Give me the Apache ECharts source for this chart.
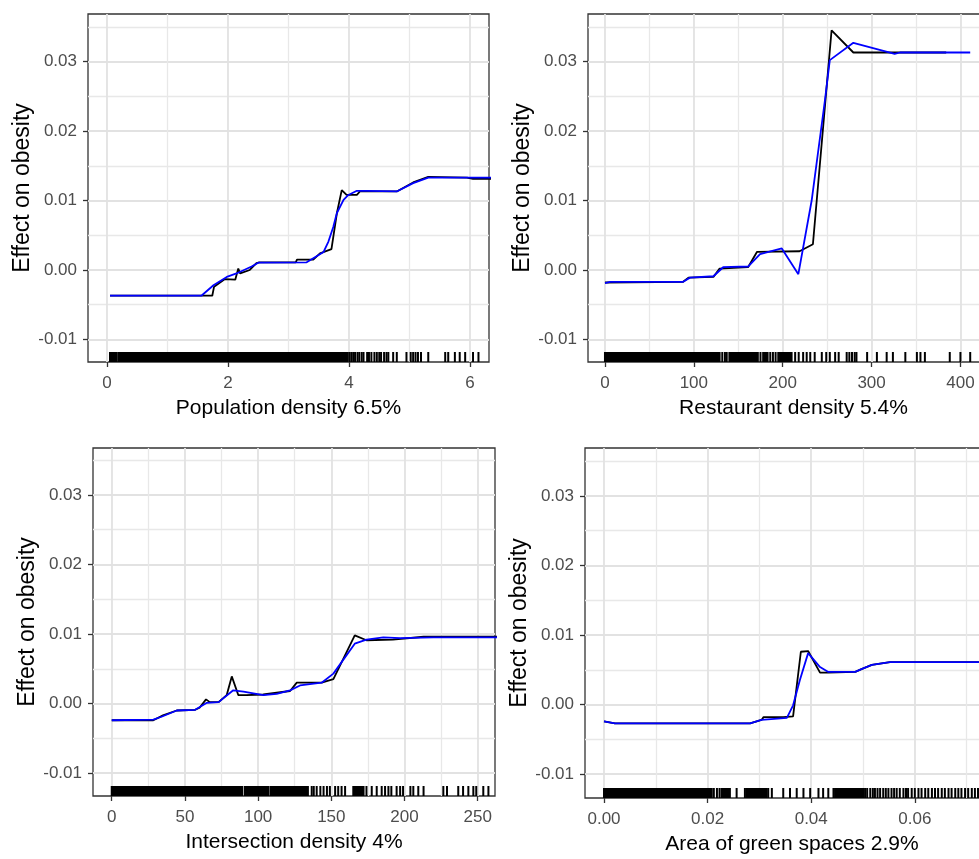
<!DOCTYPE html>
<html><head><meta charset="utf-8">
<script src="https://cdn.jsdelivr.net/npm/echarts@6/dist/echarts.min.js"></script>
<style>html,body{margin:0;padding:0;background:#fff}#c{width:979px;height:859px}</style>
</head><body><div id="c"></div>
<script>
// ---------- data ----------
const yTicks = [-0.01, 0, 0.01, 0.02, 0.03];
const yMinor = [-0.005, 0.005, 0.015, 0.025, 0.035];

const popTicks = [0, 2, 4, 6];
const popMinor = [1, 3, 5];
const popBlack = [[0.05,-0.0037],[1.74,-0.0037],[1.77,-0.0024],[1.95,-0.0013],[2.12,-0.0014],[2.17,0.0002],[2.2,-0.0005],[2.36,0.0],[2.47,0.001],[2.52,0.0011],[3.12,0.0011],[3.14,0.0015],[3.41,0.0015],[3.52,0.0024],[3.71,0.003],[3.74,0.0029],[3.8,0.0082],[3.88,0.0115],[3.96,0.0108],[4.13,0.0108],[4.18,0.0113],[4.79,0.0113],[5.06,0.0126],[5.31,0.0134],[5.95,0.0133],[6.05,0.0131],[6.35,0.0131]];
const popBlue = [[0.05,-0.0037],[1.56,-0.0037],[1.76,-0.0022],[1.98,-0.001],[2.14,-0.0005],[2.39,0.0005],[2.5,0.00105],[3.3,0.0011],[3.41,0.0017],[3.58,0.0026],[3.66,0.0041],[3.74,0.0062],[3.8,0.0082],[3.91,0.0101],[3.99,0.0108],[4.13,0.0114],[4.29,0.0114],[4.79,0.0113],[5.06,0.0125],[5.31,0.0133],[6.35,0.0133]];
const popRug = [[0.05,0.16],[0.19,3.98],4.01,4.04,4.07,4.10,4.14,4.17,4.21,4.24,4.3,4.33,4.37,4.42,4.46,4.5,4.53,4.58,4.62,4.65,4.73,4.79,4.95,5.02,5.06,5.1,5.14,5.19,5.31,5.59,5.64,5.75,5.83,5.92,6.05,6.14];

const restTicks = [0, 100, 200, 300, 400];
const restMinor = [50, 150, 250, 350];
const restBlack = [[0,-0.0018],[88,-0.0017],[94,-0.0011],[122,-0.001],[129,0.0002],[161,0.0004],[171,0.0026],[219,0.0027],[234,0.0037],[255,0.0345],[279.5,0.0313],[384,0.0313]];
const restBlue = [[0,-0.0019],[6,-0.0017],[88,-0.0017],[95.7,-0.0011],[122,-0.0009],[133,0.0004],[161,0.0005],[174.5,0.0023],[199,0.0031],[217.6,-0.0006],[232.6,0.01],[247.6,0.0245],[253,0.0302],[279.5,0.0327],[326,0.0311],[332,0.0313],[411,0.0313]];
const restRug = [[0,129],132,135,137,140,[141,170],172,175,[178,183],186,189,192,[195,210],214,218,223,227,231,236,244,249,253,259,263,272,275,278,281,283,295,306,317,324,338,351,355,360,388,400,411];

const interTicks = [0, 50, 100, 150, 200, 250];
const interMinor = [25, 75, 125, 175, 225];
const interBlack = [[0,-0.0024],[28.4,-0.0024],[35,-0.0017],[44.4,-0.001],[57,-0.0009],[60,-0.0006],[64.4,0.0006],[67,0.0002],[73,0.0002],[78.5,0.0012],[82,0.0039],[86.5,0.0012],[92,0.0012],[103.5,0.0013],[121.8,0.0018],[126.4,0.003],[143.4,0.003],[151.4,0.0035],[166,0.0098],[174,0.0091],[192,0.0092],[213,0.0096],[265,0.0096]];
const interBlue = [[0,-0.0024],[28.4,-0.0023],[34,-0.0019],[44.4,-0.001],[57,-0.0009],[65,0.0001],[73,0.0002],[83,0.0019],[90,0.0017],[103.5,0.0012],[112.7,0.0014],[121.8,0.0019],[128.6,0.0026],[143.4,0.003],[151.4,0.0043],[166,0.0086],[174,0.0092],[185.5,0.0095],[197,0.0094],[219.7,0.0095],[265,0.0095]];
const interRug = [[0,89],[90.8,107],[108.5,134],136.6,138,140,142.5,144.7,147,149,152.6,154.7,157,159.4,[165,172],174,177.6,181,184.4,186.7,189,191,194.6,197,199,204,206,209.4,213,226.5,229,236.7,240,243.6,247,249,253.8,257.3];

const greenTicks = [0, 0.02, 0.04, 0.06];
const greenMinor = [0.01, 0.03, 0.05, 0.07];
const greenBlack = [[0,-0.0024],[0.0021,-0.0027],[0.0282,-0.0027],[0.0304,-0.0022],[0.0308,-0.0018],[0.0346,-0.0018],[0.0365,-0.0017],[0.038,0.0076],[0.0394,0.0077],[0.0417,0.0046],[0.0433,0.0046],[0.0485,0.0047],[0.0497,0.0051],[0.0517,0.0057],[0.0552,0.0061],[0.0765,0.0061]];
const greenBlue = [[0,-0.0024],[0.0021,-0.0027],[0.0282,-0.0027],[0.0304,-0.0022],[0.0353,-0.0019],[0.0365,-0.0001],[0.0378,0.0035],[0.0394,0.0074],[0.0417,0.0054],[0.0433,0.0047],[0.0485,0.0047],[0.0497,0.0051],[0.0517,0.0057],[0.0552,0.0061],[0.0765,0.0061]];
const greenRug = [[0,0.0147],[0.0150,0.0208],0.0212,0.0218,0.0223,[0.0227,0.0243],0.0256,0.0272,[0.0275,0.0314],0.0317,0.0324,0.0346,0.0359,0.0372,0.0385,0.0398,0.0414,0.0423,0.0433,0.0443,[0.0446,0.0501],0.0504,0.0508,0.0514,0.0519,0.0523,0.0528,0.0533,0.0539,0.0544,0.0549,0.0555,0.0560,0.0565,0.0571,0.0578,0.0583,0.0587,0.0594,0.0600,0.0607,0.0613,0.0620,0.0626,0.0633,0.0639,0.0645,0.0652,0.0658,0.0665,0.0671,0.0678,0.0684,0.0690,0.0697,0.0703,0.0710,0.0716,0.0722];

const xTitles = ['Population density 6.5%', 'Restaurant density 5.4%', 'Intersection density 4%', 'Area of green spaces 2.9%'];
const yTitle = 'Effect on obesity';

// ---------- layout ----------
const FONT = 'Liberation Sans, Arial, sans-serif';
const panels = [
  {left:88, top:14, width:401, height:348, xMin:-0.314, xMax:6.314, yMin:-0.01324, yMax:0.03684,
   ticks:popTicks, minor:popMinor, black:popBlack, blue:popBlue, rug:popRug, fmt:v=>String(v)},
  {left:588, top:14, width:411, height:348, xMin:-19.1, xMax:443.4, yMin:-0.01324, yMax:0.03684,
   ticks:restTicks, minor:restMinor, black:restBlack, blue:restBlue, rug:restRug, fmt:v=>String(v)},
  {left:93, top:448, width:402, height:348, xMin:-12.8, xMax:261.8, yMin:-0.01329, yMax:0.03673,
   ticks:interTicks, minor:interMinor, black:interBlack, blue:interBlue, rug:interRug, fmt:v=>String(v)},
  {left:585, top:448, width:414, height:350, xMin:-0.00367, xMax:0.07625, yMin:-0.01342, yMax:0.03688,
   ticks:greenTicks, minor:greenMinor, black:greenBlack, blue:greenBlue, rug:greenRug, fmt:v=>v.toFixed(2)}
];

const RUG_H = 10;
function rugRender(params, api) {
  const cs = params.coordSys;
  const a = api.coord([api.value(0), 0])[0];
  const b = api.coord([api.value(1), 0])[0];
  const bottom = cs.y + cs.height;
  return {type:'rect', shape:{x:a-1, y:bottom-RUG_H, width:Math.max(2, b-a+2), height:RUG_H}, style:{fill:'#000'}};
}

const grid = [], xAxis = [], yAxis = [], series = [];
const majorSplit = {show:true, lineStyle:{color:'#e2e2e2', width:1.8}};
const minorSplit = {show:true, lineStyle:{color:'#e8e8e8', width:1.3}};
const labelStyle = {fontSize:17, color:'#4d4d4d', fontFamily:FONT};

panels.forEach((p, i) => {
  grid.push({left:p.left, top:p.top, width:p.width, height:p.height, show:true,
    borderColor:'#333', borderWidth:1.3, backgroundColor:'transparent',
    containLabel:false, outerBoundsMode:'none'});
  // minor x
  xAxis.push({type:'value', gridIndex:i, position:'bottom', min:p.xMin, max:p.xMax,
    axisLine:{show:false, onZero:false}, axisTick:{show:false, customValues:p.minor},
    axisLabel:{show:false, customValues:p.minor}, splitLine:minorSplit});
  // major x
  xAxis.push({type:'value', gridIndex:i, position:'bottom', min:p.xMin, max:p.xMax,
    name:xTitles[i], nameLocation:'middle', nameGap:36,
    nameTextStyle:{fontSize:21, color:'#000', fontFamily:FONT},
    axisLine:{show:false, onZero:false},
    axisTick:{show:true, length:5, customValues:p.ticks, lineStyle:{color:'#333', width:1.3}},
    axisLabel:Object.assign({customValues:p.ticks, margin:13, formatter:p.fmt, hideOverlap:false}, labelStyle),
    splitLine:majorSplit});
  // minor y
  yAxis.push({type:'value', gridIndex:i, position:'left', min:p.yMin, max:p.yMax,
    axisLine:{show:false, onZero:false}, axisTick:{show:false, customValues:yMinor},
    axisLabel:{show:false, customValues:yMinor}, splitLine:minorSplit});
  // major y
  yAxis.push({type:'value', gridIndex:i, position:'left', min:p.yMin, max:p.yMax,
    name:yTitle, nameLocation:'middle', nameGap:54, nameRotate:90,
    nameTextStyle:{fontSize:23, color:'#000', fontFamily:FONT},
    axisLine:{show:false, onZero:false},
    axisTick:{show:true, length:5, customValues:yTicks, lineStyle:{color:'#333', width:1.3}},
    axisLabel:Object.assign({customValues:yTicks, margin:11, formatter:v=>v.toFixed(2), hideOverlap:false}, labelStyle),
    splitLine:majorSplit});

  const xi = 2*i+1, yi = 2*i+1;
  series.push({type:'custom', xAxisIndex:xi, yAxisIndex:yi, renderItem:rugRender, clip:true,
    encode:{x:[0,1]}, data:p.rug.map(r => Array.isArray(r) ? r : [r, r]), silent:true});
  series.push({type:'line', xAxisIndex:xi, yAxisIndex:yi, data:p.black, showSymbol:false, clip:true,
    lineStyle:{color:'#000', width:1.8}, silent:true});
  series.push({type:'line', xAxisIndex:xi, yAxisIndex:yi, data:p.blue, showSymbol:false, clip:true,
    lineStyle:{color:'#0000ff', width:1.8}, silent:true});
});

const chart = echarts.init(document.getElementById('c'), null, {renderer:'canvas'});
chart.setOption({animation:false, backgroundColor:'#fff', grid, xAxis, yAxis, series});
</script></body></html>
